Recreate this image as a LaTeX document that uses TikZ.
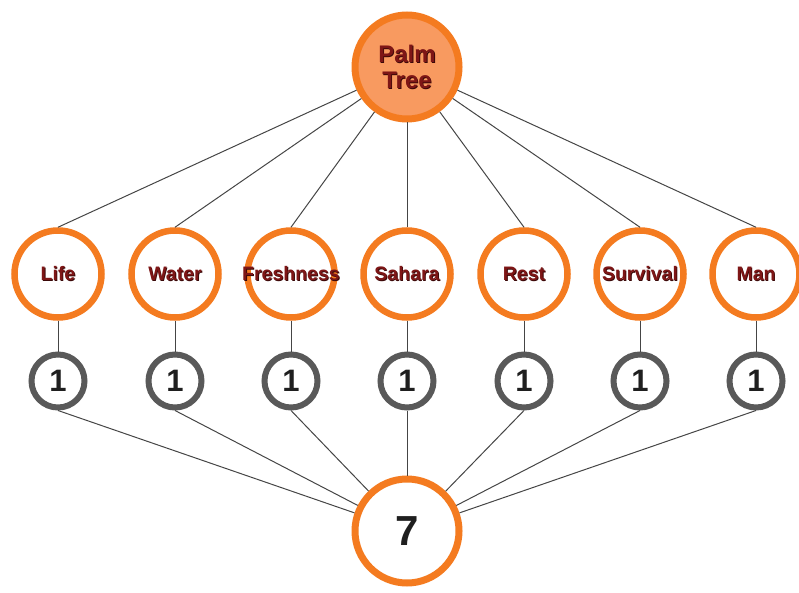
\documentclass[tikz,border=0pt]{standalone}
\usepackage{fontspec}
\setmainfont{Liberation Sans}
\definecolor{ring}{HTML}{F47B20}
\definecolor{palmfill}{HTML}{F89A60}
\definecolor{grayring}{HTML}{595959}
\definecolor{lbl}{HTML}{7E1616}
\definecolor{lblshadow}{HTML}{3A0808}
\definecolor{lnk}{HTML}{454545}
\newcommand\shtxt[1]{\makebox[0pt][c]{\rlap{\kern0.9pt\raisebox{-0.9pt}{\color{lblshadow}#1}}#1}}
\begin{document}
\begin{tikzpicture}[x=1pt,y=-1pt,
  bigring/.style={circle,draw=ring,line width=7pt,minimum size=104pt,inner sep=0pt},
  midring/.style={circle,draw=ring,fill=white,line width=6.5pt,minimum size=87pt,inner sep=0pt,
    font=\bfseries\fontsize{19.5}{20}\selectfont,text=lbl},
  onering/.style={circle,draw=grayring,fill=white,line width=6pt,minimum size=53pt,inner sep=0pt,
    font=\bfseries\fontsize{31}{31}\selectfont,text=black!88},
  link/.style={draw=lnk,line width=1pt}]
\useasboundingbox (0,0) rectangle (799,593);
\node[bigring,fill=palmfill,font=\bfseries\fontsize{24}{26}\selectfont,text=lbl,align=center] (palm) at (407,67) {\shtxt{Palm}\\\shtxt{Tree}};
\node[bigring,fill=white,font=\bfseries\fontsize{42}{42}\selectfont,text=black!88] (seven) at (407,531) {7};
\foreach \i/\x/\t in {1/58/Life,2/175/Water,3/291/Freshness,4/407/Sahara,5/524/Rest,6/640/Survival,7/756/Man}{
  \node[midring] (m\i) at (\x,274) {\shtxt{\t}};
  \node[onering] (o\i) at (\x,381) {1};
}
\foreach \i in {1,...,7}{
  \draw[link] (palm) -- (m\i.north);
  \draw[link] (m\i.south) -- (o\i.north);
  \draw[link] (o\i.south) -- (seven);
}
\end{tikzpicture}
\end{document}
